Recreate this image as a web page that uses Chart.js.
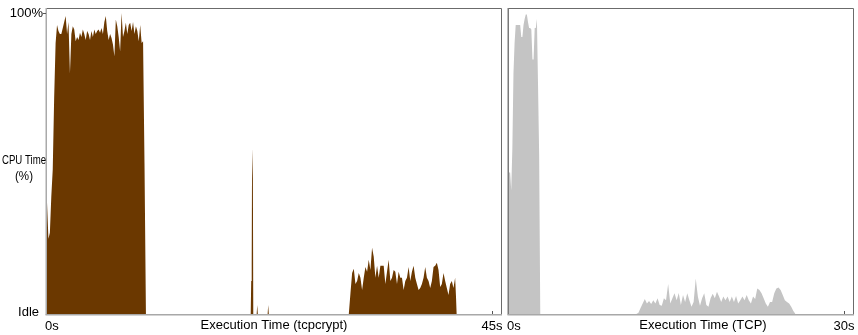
<!DOCTYPE html>
<html>
<head>
<meta charset="utf-8">
<script src="https://cdn.jsdelivr.net/npm/chart.js@4.4.0/dist/chart.umd.min.js"></script>
<style>
  body { margin: 0; background: #fff; }
  #wrap { position: relative; width: 858px; height: 335px; }
  canvas { position: absolute; top: 0; }
</style>
</head>
<body>
<div id="wrap">
  <canvas id="crypt" width="505" height="335" style="left:0"></canvas>
  <canvas id="tcp" width="353" height="335" style="left:505px"></canvas>
</div>
<script>
// CPU time (%) samples, one block at a time
// tcpcrypt run: busy block at start
const cryptBlock1Start = 0;
const cryptBlock1Step = 0.145;
const cryptBlock1 = [37, 25, 27, 39, 48, 72, 90, 96, 94, 93, 93, 95, 97, 99, 93, 97, 80, 93, 95.6, 94.5,
    90.6, 92, 91, 93.4, 92, 94.5, 93, 91, 94, 93, 91, 94, 92, 94.5, 93, 94, 94.5, 93.4, 95, 93,
    97, 99, 94, 91, 93, 91.7, 89.5, 85.6, 97.8, 95.6, 92, 87.3, 100, 92, 94, 96.7, 93, 96, 96.7, 94,
    97, 93, 95.6, 94, 90.6, 96, 90, 90.6, 50, 0];

// tcpcrypt run: short spike and two blips
const cryptSpikeTimes = [20.6, 20.65, 20.7, 20.74, 20.82, 20.86, 21.2, 21.26, 21.32, 22.31, 22.37, 22.43];
const cryptSpikeValues = [0, 11, 16, 55, 45, 0, 0, 3, 0, 0, 3, 0];

// tcpcrypt run: light load block near the end
const cryptBlock3Start = 30.52;
const cryptBlock3Step = 0.168;
const cryptBlock3 = [0, 7, 13.6, 15, 10, 11, 13.6, 12, 8, 12, 15.6, 14, 18, 14.6, 22, 19, 12, 16, 12, 16,
    16, 16, 10, 14, 18, 11, 12, 14.6, 14, 10, 14, 12, 12, 8, 11, 12, 15.6, 11, 14, 16,
    12, 10, 8, 8.6, 10, 12, 15.6, 12, 11, 8.6, 11, 15.6, 16, 17, 14.6, 9, 10, 13.6, 11, 8.6,
    6.3, 10, 11, 8.6, 12, 0];

// TCP run: busy block at start
const tcpBlock1Start = 0;
const tcpBlock1Step = 0.1;
const tcpBlock1 = [47, 47, 41, 55, 80, 90, 96, 96, 96, 96, 96, 92, 92, 96, 98, 99.5, 99.5, 97, 95, 95,
    94.5, 84.5, 84.5, 95, 95, 98, 76, 53, 0];

// TCP run: light load block
const tcpBlock2Start = 11.4;
const tcpBlock2Step = 0.19;
const tcpBlock2 = [0, 0.4, 2, 3.5, 5, 3.5, 4.3, 3.3, 4.6, 3.5, 5.2, 3, 2.7, 5.2, 4.6, 10, 3.5, 5.2, 6.9, 4.6,
    7, 3, 6.3, 4, 6.9, 4.6, 2.4, 4, 11.8, 5.8, 2.7, 5.2, 6.9, 3, 2.4, 5.2, 6.7, 5.2, 7.4, 5.8,
    4, 5.8, 4.6, 5.8, 4, 5.8, 4, 6, 3.5, 4.6, 5.8, 4.6, 6.3, 4.6, 3.5, 5.8, 5, 8.5, 8, 6.9,
    5.2, 3.5, 2.4, 4, 4, 6.9, 8.5, 8.8, 8, 6.3, 4.6, 4, 3.5, 2.4, 1, 0];

// axis ticks
const cryptXTicks = [0, 45];
const cryptXLabels = ['0s', '45s'];
const tcpXTicks = [0, 30];
const tcpXLabels = ['0s', '30s'];
const yTicks = [0, 100];
const yLabels = ['Idle', '100%'];

const FONT = '13px "Liberation Sans", Arial, sans-serif';

function sampled(start, step, values) {
    return values.map((v, i) => ({ x: +(start + i * step).toFixed(3), y: v }));
}

function paired(times, values) {
    return times.map((t, i) => ({ x: t, y: values[i] }));
}

// frame, tick marks and all text, placed through the chart's own scales
const framePlugin = {
    id: 'frame',
    afterDraw(chart, args, opts) {
        const { ctx, chartArea: a, scales } = chart;
        const xs = scales.x, ys = scales.y;
        ctx.save();

        ctx.lineWidth = 1;
        ctx.strokeStyle = '#6b6b6b';
        ctx.beginPath();
        ctx.moveTo(a.left - 1, a.top - 0.5);
        ctx.lineTo(a.right + 0.5, a.top - 0.5);
        ctx.lineTo(a.right + 0.5, a.bottom);
        ctx.stroke();

        ctx.lineWidth = 1.5;
        ctx.strokeStyle = opts.leftColor || '#aaaaaa';
        ctx.beginPath();
        ctx.moveTo(a.left - 0.75, a.top - 1);
        ctx.lineTo(a.left - 0.75, a.bottom + 0.75);
        ctx.stroke();
        ctx.strokeStyle = '#a8a8a8';
        ctx.beginPath();
        ctx.moveTo(a.left - 1.5, a.bottom + 0.75);
        ctx.lineTo(a.right + 1, a.bottom + 0.75);
        ctx.stroke();

        ctx.fillStyle = '#000';
        ctx.font = FONT;
        ctx.textBaseline = 'middle';

        // x ticks: first label starts at its tick, others are centred
        ctx.strokeStyle = '#555';
        ctx.lineWidth = 1;
        opts.xTicks.forEach((v, i) => {
            const px = xs.getPixelForValue(v);
            if (i > 0) {
                ctx.beginPath();
                ctx.moveTo(Math.round(px) + 0.5, a.bottom - 3);
                ctx.lineTo(Math.round(px) + 0.5, a.bottom);
                ctx.stroke();
            }
            ctx.textAlign = i === 0 ? 'left' : 'center';
            ctx.fillText(opts.xLabels[i], i === 0 ? px - 2 : px, a.bottom + 12);
        });

        // y ticks
        if (opts.yLabels) {
            ctx.textAlign = 'right';
            opts.yTicks.forEach((v, i) => {
                const py = ys.getPixelForValue(v);
                if (v > 0) {
                    ctx.beginPath();
                    ctx.moveTo(a.left - 4, Math.round(py) + 0.5);
                    ctx.lineTo(a.left - 1, Math.round(py) + 0.5);
                    ctx.stroke();
                }
                ctx.fillText(opts.yLabels[i], v > 0 ? a.left - 4 : a.left - 8, v > 0 ? py + 1 : py - 2);
            });
        }

        // titles
        ctx.textAlign = 'center';
        ctx.fillText(opts.xTitle, opts.xTitleX, a.bottom + 11);
        if (opts.yTitle) {
            ctx.fillText(opts.yTitle[0], 24, 160, 44);
            ctx.fillText(opts.yTitle[1], 24, 176, 18);
        }
        ctx.restore();
    }
};

function makeChart(id, datasets, xMax, padding, frame) {
    return new Chart(document.getElementById(id), {
        type: 'line',
        data: { datasets: datasets },
        options: {
            responsive: false,
            animation: false,
            devicePixelRatio: 1,
            layout: { padding: padding },
            plugins: {
                legend: { display: false },
                tooltip: { enabled: false },
                frame: frame
            },
            elements: {
                point: { radius: 0 },
                line: { tension: 0, borderWidth: 0 }
            },
            scales: {
                x: { type: 'linear', min: 0, max: xMax, display: false },
                y: { min: 0, max: 101.3, display: false }
            }
        },
        plugins: [framePlugin]
    });
}

function series(points, colour) {
    return {
        data: points,
        fill: 'origin',
        backgroundColor: colour,
        borderColor: colour,
        borderWidth: 0,
        pointRadius: 0
    };
}

const BROWN = '#6b3800';
const GREY = '#c4c4c4';

makeChart('crypt', [
    series([].concat(
        sampled(cryptBlock1Start, cryptBlock1Step, cryptBlock1),
        paired(cryptSpikeTimes, cryptSpikeValues),
        sampled(cryptBlock3Start, cryptBlock3Step, cryptBlock3)
    ), BROWN)
], 45.91, { left: 47, right: 4, top: 9, bottom: 21 }, {
    xTicks: cryptXTicks, xLabels: cryptXLabels,
    yTicks: yTicks, yLabels: yLabels,
    xTitle: 'Execution Time (tcpcrypt)', xTitleX: 274,
    yTitle: ['CPU Time', '(%)']
});

makeChart('tcp', [
    series([].concat(
        sampled(tcpBlock1Start, tcpBlock1Step, tcpBlock1),
        sampled(tcpBlock2Start, tcpBlock2Step, tcpBlock2)
    ), GREY)
], 30.8, { left: 4, right: 5, top: 9, bottom: 21 }, {
    xTicks: tcpXTicks, xLabels: tcpXLabels,
    leftColor: '#7a7a7a',
    xTitle: 'Execution Time (TCP)', xTitleX: 198
});
</script>
</body>
</html>
